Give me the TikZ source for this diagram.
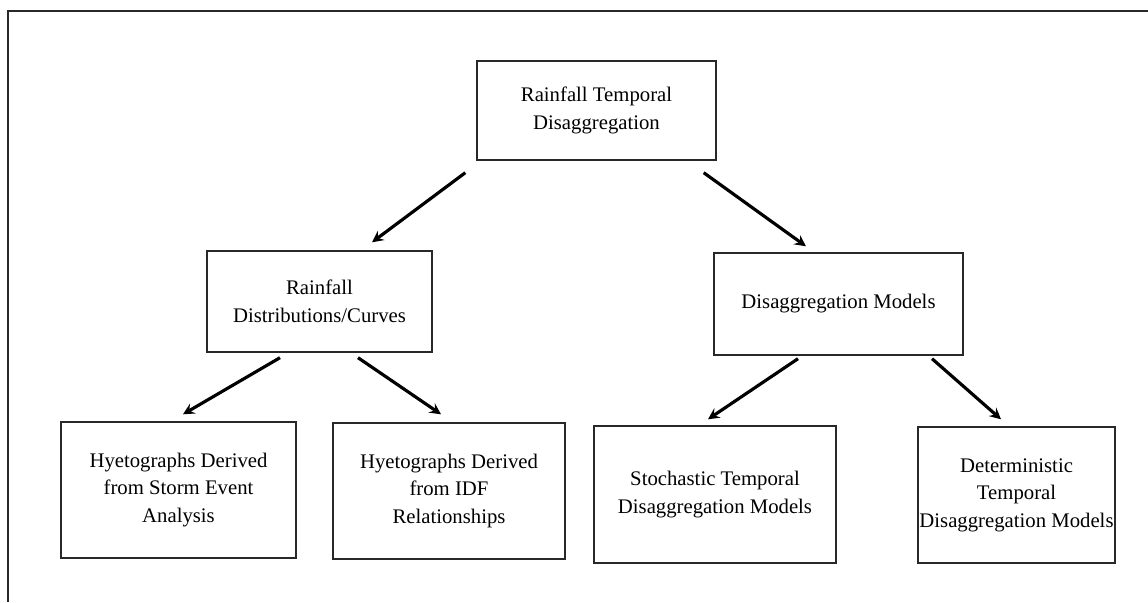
\documentclass[tikz,border=0pt]{standalone}
\usepackage{fontspec}
\setmainfont{Liberation Serif}
\usepackage{tikz}
\usetikzlibrary{arrows,shapes,positioning}
\usepackage{xcolor}
\definecolor{boxgray}{RGB}{40,40,40}
\tikzstyle{arrow} = [line width=1.8pt,->,>=stealth,color=black]
\tikzstyle{block} = [rectangle, draw=boxgray, line width=0.8pt, align=center, inner sep=0pt, font=\fontsize{11.8}{15.6}\selectfont]

\begin{document}
\begin{tikzpicture}
\useasboundingbox (0,0) rectangle (22.96,12.04);
\draw[line width=1.3pt, color=boxgray] (0.16,0) -- (0.16,11.82) -- (22.96,11.82);

\node (top) [block, minimum width=4.78cm, minimum height=1.98cm] at (11.93,9.83) {Rainfall Temporal\\Disaggregation};
\node (dist) [block, minimum width=4.50cm, minimum height=2.02cm] at (6.39,6.01) {Rainfall\\Distributions/Curves};
\node (models) [block, minimum width=4.98cm, minimum height=2.04cm] at (16.77,5.96) {Disaggregation Models};
\node (storm) [block, minimum width=4.70cm, minimum height=2.72cm] at (3.57,2.24) {Hyetographs Derived\\from Storm Event\\Analysis};
\node (idf) [block, minimum width=4.64cm, minimum height=2.72cm] at (8.98,2.22) {Hyetographs Derived\\from IDF\\Relationships};
\node (stoch) [block, minimum width=4.84cm, minimum height=2.74cm] at (14.30,2.15) {Stochastic Temporal\\Disaggregation Models};
\node (determ) [block, minimum width=3.94cm, minimum height=2.72cm] at (20.33,2.14) {Deterministic\\Temporal\\Disaggregation Models};

\draw[arrow] ([xshift=-0.22cm,yshift=-0.24cm]top.south west) -- ([xshift=1.05cm,yshift=0.16cm]dist.north);
\draw[arrow] ([xshift=-0.26cm,yshift=-0.24cm]top.south east) -- ([xshift=-0.65cm,yshift=0.12cm]models.north);
\draw[arrow] ([xshift=-0.79cm,yshift=-0.10cm]dist.south) -- ([xshift=0.09cm,yshift=0.14cm]storm.north);
\draw[arrow] ([xshift=0.77cm,yshift=-0.10cm]dist.south) -- ([xshift=-0.16cm,yshift=0.16cm]idf.north);
\draw[arrow] ([xshift=-0.81cm,yshift=-0.06cm]models.south) -- ([xshift=-0.14cm,yshift=0.12cm]stoch.north);
\draw[arrow] ([xshift=1.87cm,yshift=-0.06cm]models.south) -- ([xshift=-0.31cm,yshift=0.14cm]determ.north);
\end{tikzpicture}
\end{document}
